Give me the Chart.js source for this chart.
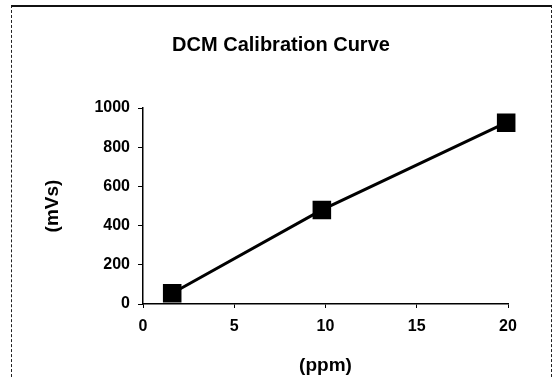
<!DOCTYPE html>
<html>
<head>
<meta charset="utf-8">
<script src="https://cdn.jsdelivr.net/npm/chart.js@4/dist/chart.umd.min.js"></script>
<style>
  html, body { margin: 0; padding: 0; background: #fff; }
  #wrap { position: relative; width: 556px; height: 379px; }
  #frame { position: absolute; left: 11px; top: 5px; width: 539px; height: 380px;
           border-top: 2px solid #111; border-left: 1px dashed #222; border-right: 1px dashed #222; }
  canvas { position: absolute; left: 0; top: 0; }
</style>
</head>
<body>
<div id="wrap">
  <div id="frame"></div>
  <canvas id="c" width="556" height="379"></canvas>
</div>
<script>
const concentrations = [1.6, 9.8, 19.9];
const areas = [55, 480, 925];
const xTicks = [0, 5, 10, 15, 20];
const yTicks = [0, 200, 400, 600, 800, 1000];

const FONT = '"Liberation Sans", Arial, Helvetica, sans-serif';

new Chart(document.getElementById('c'), {
  type: 'scatter',
  data: {
    datasets: [{
      data: concentrations.map((x, i) => ({ x: x, y: areas[i] })),
      yAxisID: 'y',
      showLine: true,
      clip: false,
      borderColor: '#000',
      borderWidth: 3,
      backgroundColor: '#000',
      pointStyle: 'rect',
      pointRadius: 11,
      pointHoverRadius: 11,
      pointBackgroundColor: '#000',
      pointBorderColor: '#000'
    }]
  },
  options: {
    responsive: false,
    animation: false,
    devicePixelRatio: 1,
    layout: { padding: { left: 10, right: 4, top: 33, bottom: 2 } },
    plugins: {
      legend: { display: false },
      tooltip: { enabled: false },
      title: {
        display: true,
        text: 'DCM Calibration Curve',
        color: '#000',
        font: { family: FONT, size: 20, weight: 'bold' },
        padding: { top: 0, bottom: 51 }
      }
    },
    scales: {
      x: {
        type: 'linear',
        min: 0, max: 20,
        afterBuildTicks: (s) => { s.ticks = xTicks.map(v => ({ value: v })); },
        border: { display: true, color: '#000', width: 1.5 },
        grid: { display: true, drawOnChartArea: false, drawTicks: true, tickLength: 4, color: '#000' },
        ticks: { color: '#000', font: { family: FONT, size: 16, weight: 'bold' }, padding: 9, maxRotation: 0,
                 callback: (v) => String(v) },
        title: { display: true, text: '(ppm)', color: '#000', font: { family: FONT, size: 19, weight: 'bold' }, padding: { top: 9, bottom: 0 } }
      },
      y: {
        type: 'linear',
        position: 'left',
        min: 0, max: 1000,
        afterBuildTicks: (s) => { s.ticks = yTicks.map(v => ({ value: v })); },
        afterFit: (s) => { s.width = 133; },
        border: { display: true, color: '#000', width: 1.5 },
        grid: { display: true, drawOnChartArea: false, drawTicks: true, tickLength: 5, color: '#000' },
        ticks: { color: '#000', font: { family: FONT, size: 16, weight: 'bold' }, padding: 8,
                 callback: (v) => String(v) },
        title: { display: true, text: '(mVs)', color: '#000', font: { family: FONT, size: 19, weight: 'bold' }, padding: { top: 31, bottom: 0 } }
      },
      yRight: {
        type: 'linear',
        position: 'right',
        min: 0, max: 1000,
        afterFit: (s) => { s.width = 44; },
        border: { display: false },
        grid: { display: false },
        ticks: { display: false }
      }
    }
  }
});
</script>
</body>
</html>
